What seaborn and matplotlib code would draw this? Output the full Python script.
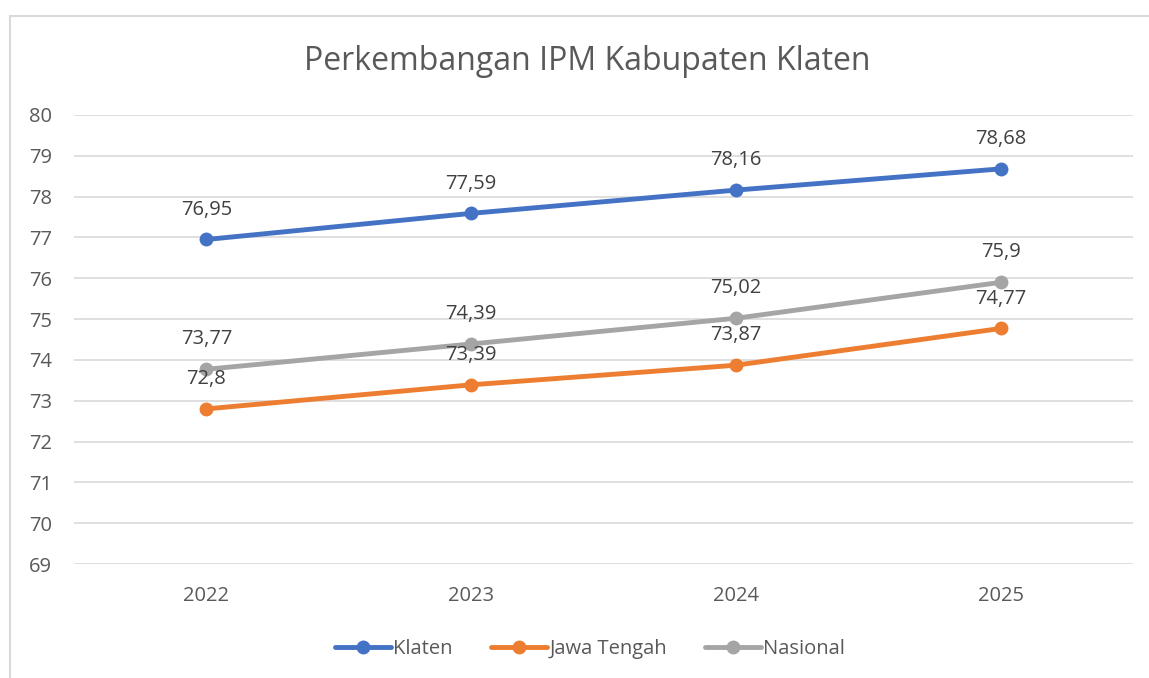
import matplotlib
matplotlib.use("Agg")
import matplotlib.pyplot as plt
import seaborn as sns
import pandas as pd
from matplotlib.patches import Rectangle
from matplotlib.lines import Line2D

years = ["2022", "2023", "2024", "2025"]
klaten = [76.95, 77.59, 78.16, 78.68]
jateng = [72.80, 73.39, 73.87, 74.77]
nasional = [73.77, 74.39, 75.02, 75.90]
series_names = ["Klaten", "Jawa Tengah", "Nasional"]
title = "Perkembangan IPM Kabupaten Klaten"

colors = {"Klaten": "#4472C4", "Jawa Tengah": "#ED7D31", "Nasional": "#A5A5A5"}

sns.set_theme(style="white")
plt.rcParams["font.family"] = ["Open Sans", "DejaVu Sans"]

rows = []
for name, vals in zip(series_names, [klaten, jateng, nasional]):
    for i, (y, v) in enumerate(zip(years, vals)):
        rows.append({"idx": i, "year": y, "value": v, "series": name})
df = pd.DataFrame(rows)

fig = plt.figure(figsize=(11.49, 6.78), dpi=100)
ax = fig.add_axes([74 / 1149, 1 - 564 / 678, (1133 - 74) / 1149, (564 - 115) / 678])

# chart border
fig.patches.append(Rectangle((10 / 1149, -0.05), 1.1, 1 - 16 / 678 + 0.05,
                             transform=fig.transFigure, fill=False,
                             edgecolor="#D9D9D9", linewidth=1.5))

ax.set_ylim(69, 80)
ax.set_xlim(-0.5, 3.5)
ax.set_yticks(range(69, 81))
for t in range(69, 81):
    ax.axhline(t, color="#D9D9D9", linewidth=1.2, zorder=0)

sns.lineplot(data=df, x="idx", y="value", hue="series", hue_order=series_names,
             palette=colors, marker="o", markersize=10, linewidth=3.5,
             markeredgewidth=0, ax=ax, legend=False, zorder=3)

for name, vals in zip(series_names, [klaten, jateng, nasional]):
    for i, v in enumerate(vals):
        lbl = f"{v:g}".replace(".", ",")
        ax.annotate(lbl, (i, v), xytext=(0, 21.5), textcoords="offset points",
                    ha="center", va="center", fontsize=14.5, color="#404040")

ax.set_xticks(range(len(years)))
ax.set_xticklabels(years)
ax.tick_params(axis="both", length=0, labelsize=14.5, labelcolor="#595959")
ax.tick_params(axis="x", pad=16)
ax.tick_params(axis="y", pad=16)
for s in ax.spines.values():
    s.set_visible(False)
ax.set_xlabel("")
ax.set_ylabel("")

fig.text(587 / 1149, 1 - 62 / 678, title, ha="center", va="center",
         fontsize=23, color="#595959")

handles = [Line2D([0], [0], color=colors[n], linewidth=3.5, marker="o",
                  markersize=10, markeredgewidth=0) for n in series_names]
fig.legend(handles, series_names, loc="center", bbox_to_anchor=(590 / 1149, 1 - 649 / 678),
           ncol=3, frameon=False, fontsize=14.5, handlelength=2.8,
           handletextpad=0.1, columnspacing=1.9, labelcolor="#595959")

fig.savefig("out.png", dpi=100)
